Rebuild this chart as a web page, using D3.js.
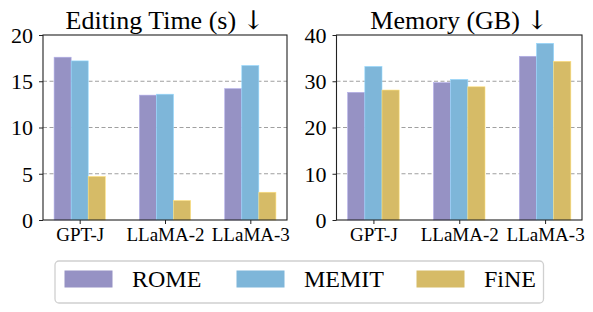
<!DOCTYPE html>
<html>
<head>
<meta charset="utf-8">
<script src="https://cdn.jsdelivr.net/npm/d3@7"></script>
<style>
  body { margin: 0; background: #fff; }
  svg text { font-family: "Liberation Serif", "Times New Roman", serif; fill: #000; }
</style>
</head>
<body>
<div id="chart"></div>
<script>
// data
var models = ["GPT-J", "LLaMA-2", "LLaMA-3"];
var methods = ["ROME", "MEMIT", "FiNE"];
var colours = ["#9692c4", "#7eb6d9", "#d6bb67"];

var timeROME = [17.6, 13.5, 14.2];
var timeMEMIT = [17.2, 13.6, 16.7];
var timeFiNE = [4.7, 2.1, 3.0];

var memROME = [27.6, 29.7, 35.4];
var memMEMIT = [33.2, 30.4, 38.2];
var memFiNE = [28.1, 28.8, 34.3];

var timeTicks = [0, 5, 10, 15, 20];
var memTicks = [0, 10, 20, 30, 40];

var serif = '"Liberation Serif", "Times New Roman", serif';

var width = 593, height = 312;

var svg = d3.select("#chart").append("svg")
    .attr("width", width)
    .attr("height", height);

var plotTop = 35, plotBottom = 220;
var barW = 0.2;

var panel = function (left, right, title, series, ticks) {
    var g = svg.append("g");

    var x = d3.scaleLinear().domain([-0.43, 2.43]).range([left, right]);
    var y = d3.scaleLinear().domain([0, ticks[ticks.length - 1]]).range([plotBottom, plotTop]);

    // dashed grid
    g.selectAll(".grid")
        .data(ticks.slice(1, -1))
        .enter().append("line")
        .attr("x1", left).attr("x2", right)
        .attr("y1", function (d) { return y(d); })
        .attr("y2", function (d) { return y(d); })
        .attr("stroke", "#a0a0a0")
        .attr("stroke-width", 1.2)
        .attr("stroke-dasharray", "4,2.5");

    // bars
    series.forEach(function (vals, k) {
        g.selectAll(".bar" + k)
            .data(vals)
            .enter().append("rect")
            .attr("x", function (d, i) { return x(i + (k - 1.5) * barW); })
            .attr("width", x(barW) - x(0))
            .attr("y", function (d) { return y(d); })
            .attr("height", function (d) { return y(0) - y(d); })
            .attr("fill", colours[k])
            .attr("stroke", d3.color(colours[k]).brighter(0.5))
            .attr("stroke-width", 0.6);
    });

    // axes
    var yAxis = g.append("g")
        .attr("transform", "translate(" + left + ",0)")
        .call(d3.axisLeft(y).tickValues(ticks).tickSize(4).tickPadding(6));
    yAxis.attr("font-family", null);
    yAxis.selectAll("text")
        .style("font-family", serif)
        .style("font-size", "22px")
        .attr("dy", "0.34em");

    var xAxis = g.append("g")
        .attr("transform", "translate(0," + plotBottom + ")")
        .call(d3.axisBottom(x).tickValues([0, 1, 2]).tickFormat(function (d) { return models[d]; }).tickSize(4).tickPadding(4));
    xAxis.attr("font-family", null);
    xAxis.selectAll("text")
        .style("font-family", serif)
        .style("font-size", "19px");

    g.selectAll(".domain").remove();
    g.selectAll(".tick line").attr("stroke", "#222").attr("stroke-width", 1);

    // frame
    g.append("rect")
        .attr("x", left).attr("y", plotTop)
        .attr("width", right - left).attr("height", plotBottom - plotTop)
        .attr("fill", "none")
        .attr("stroke", "#222")
        .attr("stroke-width", 1.1);

    var t = g.append("text")
        .attr("x", (left + right) / 2)
        .attr("y", 29)
        .attr("text-anchor", "middle")
        .style("font-size", "26px");
    t.append("tspan").text(title + " ");
    // the arrow glyph is not in Liberation Serif
    t.append("tspan")
        .style("font-family", '"DejaVu Serif", serif')
        .style("font-weight", "200")
        .text("\u2193");
};

panel(43, 287, "Editing Time (s)", [timeROME, timeMEMIT, timeFiNE], timeTicks);
panel(336.5, 582, "Memory (GB)", [memROME, memMEMIT, memFiNE], memTicks);

// legend
var legend = svg.append("g").attr("class", "legend");
legend.append("rect")
    .attr("x", 55).attr("y", 261)
    .attr("width", 488.5).attr("height", 42)
    .attr("rx", 4)
    .attr("fill", "#fff")
    .attr("stroke", "#d0d0d0")
    .attr("stroke-width", 1.3);

var legX = [64.5, 236.5, 416.5];
methods.forEach(function (m, i) {
    legend.append("rect")
        .attr("x", legX[i]).attr("y", 270.5)
        .attr("width", 48).attr("height", 17)
        .attr("fill", colours[i]);
    legend.append("text")
        .attr("x", legX[i] + 67.5)
        .attr("y", 287)
        .style("font-size", "24px")
        .text(m);
});
</script>
</body>
</html>
